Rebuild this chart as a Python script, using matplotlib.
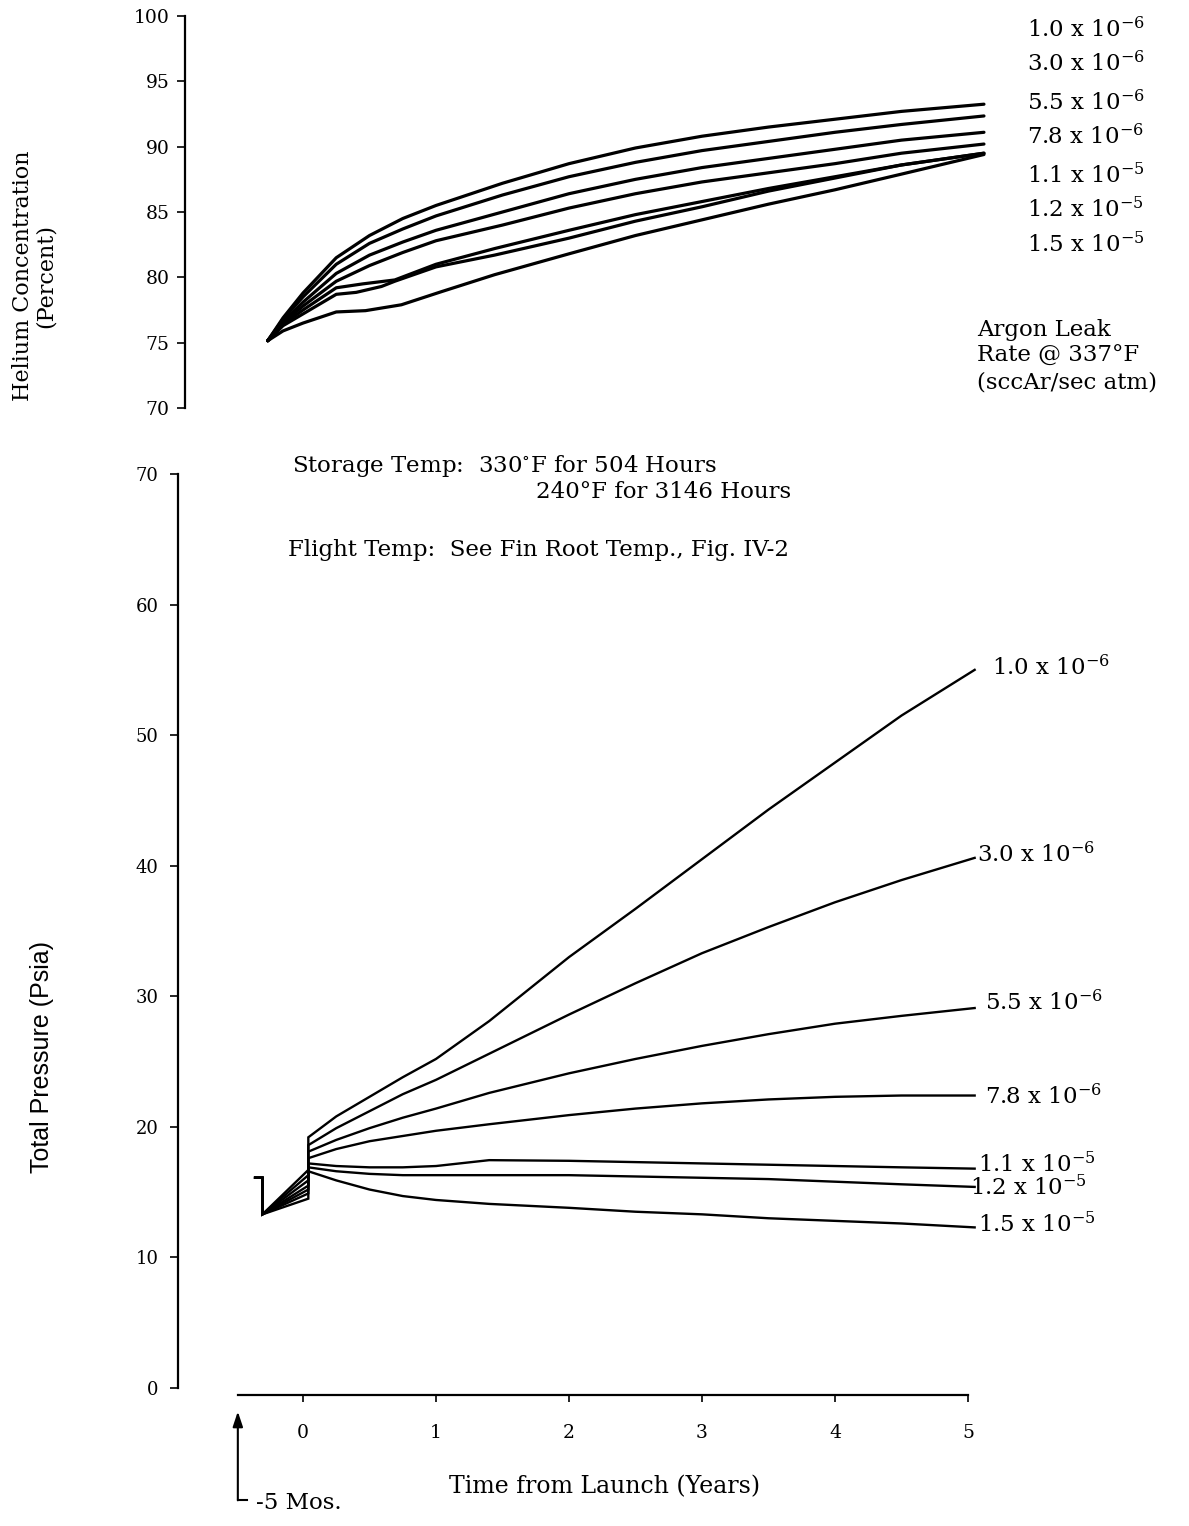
import matplotlib
matplotlib.use('Agg')
import matplotlib.pyplot as plt

# ---------------- data ----------------
leak_labels = [r'1.0 x 10$^{-6}$', r'3.0 x 10$^{-6}$', r'5.5 x 10$^{-6}$', r'7.8 x 10$^{-6}$',
               r'1.1 x 10$^{-5}$', r'1.2 x 10$^{-5}$', r'1.5 x 10$^{-5}$']

# Helium concentration (percent) vs time from launch (years)
he_x_a = [-0.265, -0.15, 0.0, 0.25, 0.5, 0.75, 1.0, 1.5, 2.0, 2.5, 3.0, 3.5, 4.0, 4.5, 5.12]
he_1_0e6 = [75.15, 76.9, 78.8, 81.5, 83.2, 84.5, 85.5, 87.2, 88.7, 89.9, 90.8, 91.5, 92.1, 92.7, 93.25]
he_3_0e6 = [75.15, 76.8, 78.5, 81.0, 82.6, 83.7, 84.7, 86.3, 87.7, 88.8, 89.7, 90.4, 91.1, 91.7, 92.35]
he_5_5e6 = [75.15, 76.6, 78.1, 80.3, 81.7, 82.7, 83.6, 85.0, 86.4, 87.5, 88.4, 89.1, 89.8, 90.5, 91.1]
he_7_8e6 = [75.15, 76.5, 77.8, 79.7, 80.9, 81.9, 82.8, 84.0, 85.3, 86.4, 87.3, 88.0, 88.7, 89.5, 90.2]
he_x_5 = [-0.265, -0.15, 0.0, 0.25, 0.45, 0.69, 1.0, 1.44, 2.0, 2.5, 3.0, 3.5, 4.0, 4.5, 5.12]
he_1_1e5 = [75.15, 76.4, 77.5, 79.2, 79.5, 79.8, 81.0, 82.2, 83.6, 84.8, 85.8, 86.8, 87.7, 88.6, 89.5]
he_x_6 = [-0.265, -0.15, 0.0, 0.25, 0.4, 0.59, 0.69, 1.0, 1.44, 2.0, 2.5, 3.0, 3.5, 4.0, 4.5, 5.12]
he_1_2e5 = [75.15, 76.3, 77.2, 78.7, 78.85, 79.3, 79.7, 80.8, 81.7, 83.0, 84.3, 85.4, 86.6, 87.6, 88.6, 89.5]
he_x_7 = [-0.265, -0.15, 0.0, 0.25, 0.47, 0.74, 1.04, 1.44, 2.0, 2.5, 3.0, 3.5, 4.0, 4.5, 5.12]
he_1_5e5 = [75.15, 75.9, 76.5, 77.35, 77.45, 77.9, 78.9, 80.2, 81.8, 83.2, 84.4, 85.6, 86.7, 87.9, 89.4]
he_series = [(he_x_a, he_1_0e6), (he_x_a, he_3_0e6), (he_x_a, he_5_5e6), (he_x_a, he_7_8e6),
             (he_x_5, he_1_1e5), (he_x_6, he_1_2e5), (he_x_7, he_1_5e5)]

# Total pressure (psia): storage hook, storage rise, launch jump, flight
p_x = [-0.36, -0.305, -0.305, 0.04, 0.04, 0.25, 0.5, 0.75, 1.0, 1.4, 2.0, 2.5, 3.0, 3.5, 4.0, 4.5, 5.05]
p_1_0e6 = [16.1, 16.1, 13.3, 16.7, 19.2, 20.8, 22.3, 23.8, 25.2, 28.1, 33.0, 36.7, 40.5, 44.3, 47.9, 51.5, 55.0]
p_3_0e6 = [16.1, 16.1, 13.3, 16.3, 18.6, 19.9, 21.2, 22.5, 23.6, 25.6, 28.6, 31.0, 33.3, 35.3, 37.2, 38.9, 40.6]
p_5_5e6 = [16.1, 16.1, 13.3, 15.9, 18.1, 19.0, 19.9, 20.7, 21.4, 22.6, 24.1, 25.2, 26.2, 27.1, 27.9, 28.5, 29.1]
p_7_8e6 = [16.1, 16.1, 13.3, 15.5, 17.6, 18.3, 18.9, 19.3, 19.7, 20.2, 20.9, 21.4, 21.8, 22.1, 22.3, 22.4, 22.4]
p_1_1e5 = [16.1, 16.1, 13.3, 15.2, 17.2, 17.0, 16.9, 16.9, 17.0, 17.45, 17.4, 17.3, 17.2, 17.1, 17.0, 16.9, 16.8]
p_1_2e5 = [16.1, 16.1, 13.3, 14.9, 16.9, 16.6, 16.4, 16.3, 16.3, 16.3, 16.3, 16.2, 16.1, 16.0, 15.8, 15.6, 15.4]
p_1_5e5 = [16.1, 16.1, 13.3, 14.5, 16.6, 15.9, 15.2, 14.7, 14.4, 14.1, 13.8, 13.5, 13.3, 13.0, 12.8, 12.6, 12.3]
p_series = [p_1_0e6, p_3_0e6, p_5_5e6, p_7_8e6, p_1_1e5, p_1_2e5, p_1_5e5]

he_ticks = [70, 75, 80, 85, 90, 95, 100]
p_ticks = [0, 10, 20, 30, 40, 50, 60, 70]
year_ticks = [0, 1, 2, 3, 4, 5]

# ---------------- figure ----------------
plt.rcParams['font.family'] = ['DejaVu Serif']
plt.rcParams['mathtext.fontset'] = 'dejavuserif'

W, H = 1189, 1526
DPI = 100
fig = plt.figure(figsize=(W / DPI, H / DPI), dpi=DPI)


def px_axes(left, right, top, bottom):
    return [left / W, 1 - bottom / H, (right - left) / W, (bottom - top) / H]


def ftext(x, y, s, **kw):
    return fig.text(x / W, 1 - y / H, s, **kw)


X0_PX, PX_PER_YR = 303, 133
FS = 16.5

# ---- top panel ----
tl, tr = 185, 1185
ax1 = fig.add_axes(px_axes(tl, tr, 16, 408))
ax1.set_xlim((tl - X0_PX) / PX_PER_YR, (tr - X0_PX) / PX_PER_YR)
ax1.set_ylim(70, 100)
for s in ['top', 'right', 'bottom']:
    ax1.spines[s].set_visible(False)
ax1.spines['left'].set_linewidth(1.6)
ax1.set_xticks([])
ax1.set_yticks(he_ticks)
ax1.tick_params(axis='y', direction='out', length=6, width=1.2, pad=5, labelsize=13.5)
for xs, ys in he_series:
    ax1.plot(xs, ys, color='black', lw=2.3, solid_capstyle='round', solid_joinstyle='round', clip_on=False)

# ---- bottom panel ----
bl, br = 178, 1185
ax2 = fig.add_axes(px_axes(bl, br, 474, 1388))
ax2.set_xlim((bl - X0_PX) / PX_PER_YR, (br - X0_PX) / PX_PER_YR)
ax2.set_ylim(0, 70)
for s in ['top', 'right']:
    ax2.spines[s].set_visible(False)
ax2.spines['left'].set_linewidth(1.6)
ax2.spines['bottom'].set_linewidth(1.6)
ax2.spines['bottom'].set_position(('outward', 5))
ax2.spines['bottom'].set_bounds(-0.49, 5)
ax2.set_yticks(p_ticks)
ax2.set_xticks(year_ticks)
ax2.tick_params(axis='y', direction='out', length=6, width=1.2, pad=8, labelsize=13)
ax2.tick_params(axis='x', direction='out', length=5, width=1.2, pad=16, labelsize=13.5)
for ys in p_series:
    ax2.plot(p_x, ys, color='black', lw=1.7, solid_joinstyle='miter', clip_on=False)

# ---- axis titles ----
ftext(34, 276, 'Helium Concentration\n(Percent)', rotation=90, ha='center', va='center',
      fontsize=16, multialignment='center', linespacing=1.05)
ftext(42, 1057, 'Total Pressure (Psia)', rotation=90, ha='center', va='center',
      fontsize=18, family=['Liberation Sans Narrow', 'Liberation Sans', 'DejaVu Sans'])
ftext(605, 1487, 'Time from Launch (Years)', ha='center', va='center', fontsize=FS + 0.5)

# -5 months arrow
ax2.annotate('', xy=(-0.49, -1.8), xytext=(-0.49, -8.6), xycoords='data', textcoords='data',
             arrowprops=dict(arrowstyle='-|>,head_length=0.9,head_width=0.3', color='black', lw=1.5,
                             shrinkA=0, shrinkB=0), annotation_clip=False)
ax2.plot([-0.49, -0.42], [-8.6, -8.6], color='black', lw=1.5, clip_on=False)
ax2.text(-0.35, -8.8, '-5 Mos.', ha='left', va='center', fontsize=FS, clip_on=False)

# ---- top legend list ----
top_label_y = [30, 64, 103, 137, 176, 210, 245]
for lab, y in zip(leak_labels, top_label_y):
    ftext(1027, y, lab, ha='left', va='center', fontsize=FS)
ftext(977, 330, 'Argon Leak', ha='left', va='center', fontsize=FS)
ftext(977, 356, 'Rate @ 337°F', ha='left', va='center', fontsize=FS)
ftext(977, 383, '(sccAr/sec atm)', ha='left', va='center', fontsize=FS)

# ---- bottom curve labels ----
bot_label_pos = [(992, 668), (977, 855), (985, 1003), (985, 1097), (978, 1165), (970, 1188), (978, 1225)]
for lab, (x, y) in zip(leak_labels, bot_label_pos):
    ftext(x, y, lab, ha='left', va='center', fontsize=FS)

# ---- notes ----
ftext(292, 466, 'Storage Temp:  330$^{\\circ}$F for 504 Hours', ha='left', va='center', fontsize=FS)
ftext(536, 492, '240°F for 3146 Hours', ha='left', va='center', fontsize=FS)
ftext(288, 550, 'Flight Temp:  See Fin Root Temp., Fig. IV-2', ha='left', va='center', fontsize=FS)

fig.savefig('out.png', dpi=DPI, facecolor='white')
